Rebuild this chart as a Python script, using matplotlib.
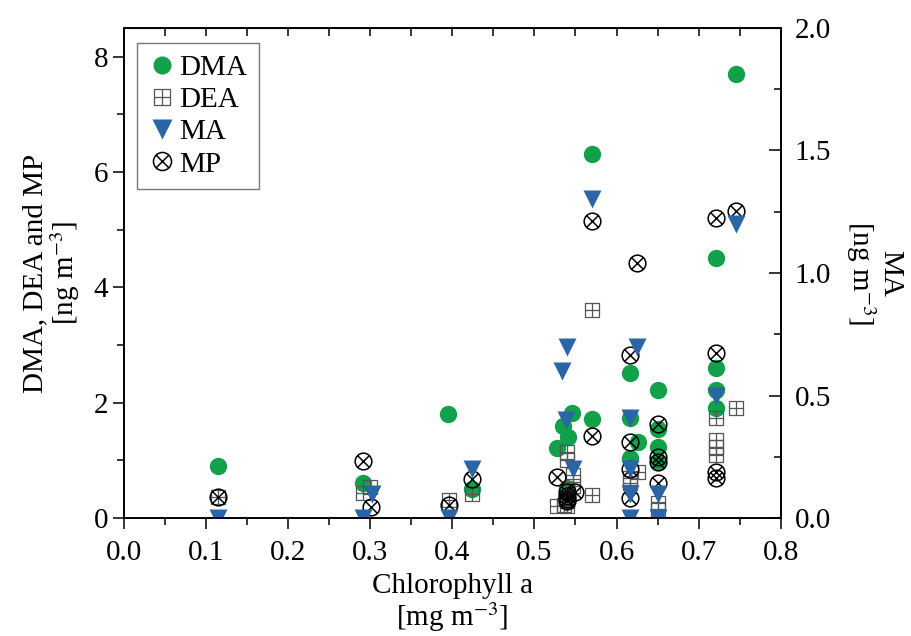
import numpy as np
import matplotlib
matplotlib.use('Agg')
import matplotlib.pyplot as plt
from matplotlib.path import Path
from matplotlib.lines import Line2D

plt.rcParams['font.family'] = ['Liberation Serif', 'DejaVu Serif']
plt.rcParams['mathtext.fontset'] = 'stix'

# values
dma_x = [0.114, 0.291, 0.395, 0.424, 0.527, 0.535, 0.541, 0.546, 0.540, 0.570, 0.570,
         0.616, 0.616, 0.616, 0.626, 0.651, 0.651, 0.651, 0.651, 0.721, 0.721, 0.721, 0.721, 0.745]
dma_y = [0.90, 0.61, 1.81, 0.50, 1.21, 1.60, 1.41, 1.82, 0.52, 6.32, 1.71,
         2.51, 1.73, 1.04, 1.31, 2.22, 1.54, 1.24, 0.98, 4.51, 2.60, 2.22, 1.90, 7.71]

dea_x = [0.114, 0.291, 0.300, 0.396, 0.424, 0.527, 0.536, 0.540, 0.540, 0.540, 0.540,
         0.547, 0.547, 0.570, 0.570, 0.616, 0.616, 0.626, 0.651, 0.651,
         0.721, 0.721, 0.721, 0.721, 0.745]
dea_y = [0.37, 0.43, 0.54, 0.31, 0.42, 0.20, 0.22, 1.15, 1.00, 0.30, 0.20,
         0.75, 0.55, 3.60, 0.40, 0.69, 0.60, 0.80, 0.26, 0.15,
         1.73, 1.35, 1.24, 1.09, 1.90]

ma_x = [0.114, 0.291, 0.302, 0.396, 0.424, 0.533, 0.540, 0.539, 0.547, 0.570,
        0.616, 0.616, 0.616, 0.616, 0.625, 0.651, 0.651, 0.721, 0.745]
ma_y = [0.0, 0.0, 0.10, 0.0, 0.20, 0.60, 0.70, 0.40, 0.20, 1.30,
        0.41, 0.20, 0.10, 0.0, 0.70, 0.10, 0.0, 0.50, 1.20]

mp_x = [0.114, 0.291, 0.301, 0.396, 0.424, 0.527, 0.540, 0.540, 0.540, 0.540, 0.549,
        0.570, 0.570, 0.616, 0.616, 0.616, 0.616, 0.625, 0.651, 0.651, 0.651, 0.651,
        0.721, 0.721, 0.721, 0.721, 0.745]
mp_y = [0.37, 0.99, 0.19, 0.23, 0.67, 0.71, 0.45, 0.38, 0.33, 0.30, 0.46,
        5.15, 1.42, 2.83, 1.31, 0.85, 0.34, 4.43, 1.63, 1.06, 0.98, 0.60,
        5.21, 2.86, 0.80, 0.69, 5.33]

green = '#12a04a'
blue = '#2a66a6'

# custom markers: square with a plus, circle with a cross
sq = Path([(-1, -1), (1, -1), (1, 1), (-1, 1), (-1, -1)],
          [Path.MOVETO, Path.LINETO, Path.LINETO, Path.LINETO, Path.CLOSEPOLY])
plus = Path([(-1, 0), (1, 0), (0, -1), (0, 1)],
            [Path.MOVETO, Path.LINETO, Path.MOVETO, Path.LINETO])
boxplus = Path.make_compound_path(sq, plus)
d = 0.7071
cross = Path([(-d, -d), (d, d), (-d, d), (d, -d)],
             [Path.MOVETO, Path.LINETO, Path.MOVETO, Path.LINETO])
otimes = Path.make_compound_path(Path.unit_circle(), cross)

fig = plt.figure(figsize=(9.12, 6.36), dpi=100)
ax = fig.add_axes([0.136, 0.1855, 0.720, 0.7705])
ax2 = ax.twinx()

ax.plot(dma_x, dma_y, 'o', color=green, ms=12.5, mec='none', ls='none')
ax.plot(dea_x, dea_y, marker=boxplus, mfc='none', mec='#555555', mew=0.9, ms=10, ls='none')
ax.plot(mp_x, mp_y, marker=otimes, mfc='none', mec='black', mew=1.1, ms=12, ls='none')
ax2.plot(ma_x, ma_y, 'v', color=blue, ms=13.5, mec='none', ls='none')

ax.set_xlim(0, 0.8)
ax.set_ylim(0, 8.5)
ax2.set_ylim(0, 2.0)

ax.set_xticks(np.arange(0, 0.81, 0.1))
ax.set_xticks(np.arange(0.05, 0.8, 0.1), minor=True)
ax.set_xticklabels([f'{v:.1f}' for v in np.arange(0, 0.81, 0.1)])
ax.set_yticks([0, 2, 4, 6, 8])
ax.set_yticks([1, 3, 5, 7], minor=True)
ax2.set_yticks([0.0, 0.5, 1.0, 1.5, 2.0])
ax2.set_yticks([0.25, 0.75, 1.25, 1.75], minor=True)
ax2.set_yticklabels(['0.0', '0.5', '1.0', '1.5', '2.0'])

fs = 21
ax.tick_params(axis='both', which='both', direction='out', labelsize=fs, width=1.1)
ax.tick_params(which='major', length=8)
ax.tick_params(which='minor', length=5)
ax.tick_params(axis='x', pad=8)
ax2.tick_params(axis='y', which='both', direction='in', labelsize=fs, width=1.1, pad=10)
ax2.tick_params(which='major', length=9)
ax2.tick_params(which='minor', length=5)

top = ax.secondary_xaxis('top')
top.set_xticks(np.arange(0, 0.81, 0.05))
top.tick_params(direction='in', length=6, width=1.1, labeltop=False)

for a in (ax, ax2):
    for s in a.spines.values():
        s.set_linewidth(1.2)

ax.set_xlabel('Chlorophyll a\n[mg m$^{-3}$]', fontsize=fs, linespacing=1.05, labelpad=5)
ax.set_ylabel('DMA, DEA and MP\n[ng m$^{-3}$]', fontsize=fs, linespacing=1.0, labelpad=8)
ax2.set_ylabel('MA\n[ng m$^{-3}$]', fontsize=fs, rotation=270, labelpad=52, linespacing=1.0)

handles = [
    Line2D([], [], marker='o', color=green, mec='none', ms=13, ls='none'),
    Line2D([], [], marker=boxplus, mfc='none', mec='#555555', mew=0.9, ms=11, ls='none'),
    Line2D([], [], marker='v', color=blue, mec='none', ms=14, ls='none'),
    Line2D([], [], marker=otimes, mfc='none', mec='black', mew=1.1, ms=13, ls='none'),
]
leg = ax2.legend(handles, ['DMA', 'DEA', 'MA', 'MP'], loc='upper left',
                 bbox_to_anchor=(0.02, 0.97), borderaxespad=0, fontsize=fs, frameon=True,
                 fancybox=False, handletextpad=0.15, handlelength=0.9, labelspacing=0.2,
                 borderpad=0.4)
leg.get_frame().set_edgecolor('#555555')
leg.get_frame().set_linewidth(1.0)

fig.savefig('out.png', dpi=100)
